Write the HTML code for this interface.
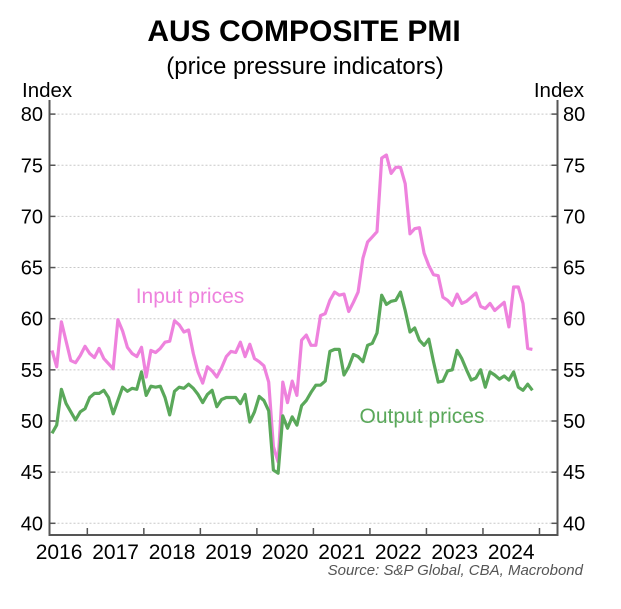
<!DOCTYPE html>
<html><head><meta charset="utf-8"><style>
html,body{margin:0;padding:0;background:#fff}
svg text{font-family:"Liberation Sans",Arial,sans-serif}
</style></head><body>
<svg id="chart" width="621" height="604" viewBox="0 0 621 604" xmlns="http://www.w3.org/2000/svg">
<text x="304" y="41" text-anchor="middle" font-size="30" font-weight="bold" fill="#000">AUS COMPOSITE PMI</text>
<text x="305" y="74" text-anchor="middle" font-size="24" fill="#000">(price pressure indicators)</text>
<text x="22" y="97" font-size="20.5" fill="#000">Index</text>
<text x="584" y="97" text-anchor="end" font-size="20.5" fill="#000">Index</text>
<g id="grid"></g>
<g id="series"></g>
<g id="axes"></g>
<text x="190" y="303" text-anchor="middle" font-size="21" fill="#ee82dd">Input prices</text>
<text x="422" y="423" text-anchor="middle" font-size="21" fill="#5aa85a">Output prices</text>
<text x="583" y="575" text-anchor="end" font-size="15" font-style="italic" fill="#555">Source: S&amp;P Global, CBA, Macrobond</text>
</svg>
<script>
// Monthly data starting May 2016
const startYear = 2016, startMonth = 4;
const inputPrices = [56.9,55.3,59.7,57.8,55.9,55.7,56.4,57.3,56.6,56.2,57.1,56.1,55.6,55.1,59.9,58.8,57.2,56.6,56.3,57.2,54.3,56.9,56.7,57.1,57.7,57.8,
59.8,59.4,58.7,58.9,56.6,54.8,53.7,55.3,54.9,54.3,55.2,56.3,56.8,56.7,57.7,56.3,57.5,56.1,55.8,55.4,53.8,47.5,46.0,53.8,51.8,53.9,
52.5,57.9,58.4,57.4,57.4,60.3,60.5,61.8,62.6,62.3,62.4,60.7,61.6,62.6,65.9,67.5,68.0,68.5,75.7,76.0,74.2,74.8,74.8,73.2,68.3,68.8,68.9,66.4,65.2,64.3,64.2,62.1,61.8,61.3,62.4,61.5,61.7,62.1,62.5,61.2,61.0,61.5,60.8,61.2,61.6,59.2,63.1,63.1,61.5,57.1,57.0];
const outputPrices = [48.8,49.6,53.1,51.7,50.9,50.1,50.9,51.2,52.3,52.7,52.7,53.0,52.3,50.7,52.0,53.3,52.9,53.2,53.1,54.8,52.5,53.4,53.3,53.4,52.3,50.6,
52.9,53.3,53.2,53.6,53.2,52.6,51.8,52.6,53.0,51.4,52.1,52.3,52.3,52.3,51.7,52.6,49.9,50.9,52.4,52.0,51.0,45.2,44.9,50.5,49.3,50.4,
49.6,51.5,52.0,52.8,53.5,53.5,53.9,56.8,57.0,57.0,54.5,55.3,56.5,56.3,55.8,57.4,57.6,58.6,62.3,61.4,61.7,61.8,62.6,60.8,58.7,59.1,57.9,57.4,58.0,55.8,53.8,53.9,54.9,55.0,56.9,56.1,55.0,54.0,54.2,55.0,53.3,54.8,54.5,54.1,54.4,54.0,54.8,53.3,53.0,53.6,53.0];
const yTicks = [40,45,50,55,60,65,70,75,80];
const xYears = [2016,2017,2018,2019,2020,2021,2022,2023,2024];

const NS = "http://www.w3.org/2000/svg";
const L = 49.5, R = 557.5, B = 535;
const monthW = 4.71, jan2016X = 30.8;
function xMonth(idx){ return jan2016X + (idx + 0.5) * monthW; }
function xK(k){ return xMonth(startMonth + k); }
function y(v){ return 523.3 - (v - 40) * 10.23; }
function mk(tag, attrs, parent){ const e=document.createElementNS(NS,tag); for(const k in attrs) e.setAttribute(k,attrs[k]); parent.appendChild(e); return e; }

const grid=document.getElementById('grid'), axes=document.getElementById('axes'), series=document.getElementById('series');
yTicks.forEach(v=>{
  const g = mk('line',{x1:L,x2:R,y1:y(v),y2:y(v),stroke:'#c8c8c8','stroke-width':1,'stroke-dasharray':'2,2'},grid);
  
  
  const t1 = mk('text',{x:43,y:y(v)+7,'text-anchor':'end','font-size':20,fill:'#000'},axes);
  t1.textContent=v;
  
  
  const t2 = mk('text',{x:563,y:y(v)+7,'font-size':20,fill:'#000'},axes);
  t2.textContent=v;
  
  
  mk('line',{x1:L,x2:L+6,y1:y(v),y2:y(v),stroke:'#555','stroke-width':1.5},axes);
  mk('line',{x1:R-6,x2:R,y1:y(v),y2:y(v),stroke:'#555','stroke-width':1.5},axes);
});
xYears.forEach(yr=>{
  const idx=(yr-2016)*12;
  const tx = jan2016X + (idx+12)*monthW;
  mk('line',{x1:tx,x2:tx,y1:B,y2:B-7,stroke:'#555','stroke-width':1.5},axes);
  const t = mk('text',{x:jan2016X+(idx+6)*monthW,y:559,'text-anchor':'middle','font-size':21,fill:'#000'},axes);
  t.textContent=yr;
  
  
});
const ax = mk('path',{d:`M${L},100 V${B} H${R} V100`,fill:'none',stroke:'#555','stroke-width':2},axes);



function line(data,color,name){
  const d = data.map((v,k)=>(k?'L':'M')+xK(k).toFixed(1)+','+y(v).toFixed(1)).join(' ');
  const p = mk('path',{d:d,fill:'none',stroke:color,'stroke-width':3.2,'stroke-linejoin':'round'},series);
  
  
}
line(inputPrices,'#ee82dd','input-prices-line');
line(outputPrices,'#5aa85a','output-prices-line');
</script>
</body></html>
